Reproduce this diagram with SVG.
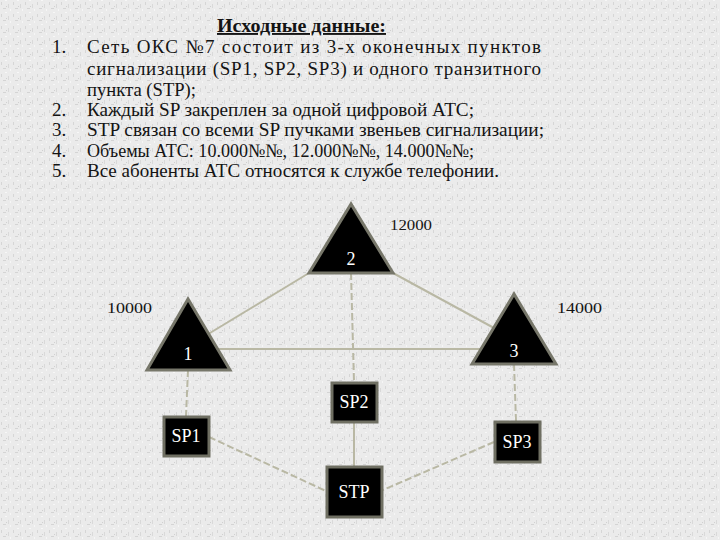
<svg xmlns="http://www.w3.org/2000/svg" width="720" height="540" viewBox="0 0 720 540">
<defs>
<pattern id="tex" width="12" height="12" patternUnits="userSpaceOnUse">
<rect width="12" height="12" fill="#ebebeb"/>
<rect x="1" y="2" width="1" height="3" fill="#d6d6d6"/>
<rect x="5" y="0" width="2" height="1" fill="#f7f7f7"/>
<rect x="8" y="4" width="1" height="4" fill="#d9d9d9"/>
<rect x="3" y="8" width="3" height="1" fill="#d4d4d4"/>
<rect x="10" y="9" width="1" height="2" fill="#f6f6f6"/>
<rect x="6" y="6" width="1" height="1" fill="#d0d0d0"/>
</pattern>
</defs>
<style>
.t{font-family:"Liberation Serif","Times New Roman",serif;font-size:19px;fill:#141414}
.lbl{font-family:"Liberation Serif","Times New Roman",serif;font-size:15px;fill:#141414}
.w{font-family:"Liberation Serif","Times New Roman",serif;font-size:18px;fill:#fff;text-anchor:middle}
.tri{fill:#000;stroke:#77776a;stroke-width:3;stroke-linejoin:miter}
.box{fill:#000;stroke:#6f6f62;stroke-width:3}
.c{stroke:#b9b8a4;stroke-width:2;fill:none}
.d{stroke-dasharray:7 3}
</style>
<rect width="720" height="540" fill="url(#tex)"/>

<g id="text">
<text class="t" x="217" y="32" font-weight="bold" text-decoration="underline" textLength="169" lengthAdjust="spacingAndGlyphs">Исходные данные:</text>
<text class="t" x="52" y="53">1.</text>
<text class="t" x="87" y="53" textLength="454" lengthAdjust="spacing">Сеть ОКС №7 состоит из 3-х оконечных пунктов</text>
<text class="t" x="87" y="75" textLength="454" lengthAdjust="spacing">сигнализации (SP1, SP2, SP3) и одного транзитного</text>
<text class="t" x="87" y="96" textLength="109" lengthAdjust="spacingAndGlyphs">пункта (STP);</text>
<text class="t" x="52" y="116">2.</text>
<text class="t" x="87" y="116" textLength="387" lengthAdjust="spacingAndGlyphs">Каждый SP закреплен за одной цифровой АТС;</text>
<text class="t" x="52" y="136">3.</text>
<text class="t" x="87" y="136" textLength="457" lengthAdjust="spacingAndGlyphs">STP связан со всеми SP пучками звеньев сигнализации;</text>
<text class="t" x="52" y="157">4.</text>
<text class="t" x="87" y="157" textLength="387" lengthAdjust="spacingAndGlyphs">Объемы АТС: 10.000№№, 12.000№№, 14.000№№;</text>
<text class="t" x="52" y="177">5.</text>
<text class="t" x="87" y="177" textLength="412" lengthAdjust="spacingAndGlyphs">Все абоненты АТС относятся к службе телефонии.</text>
</g>

<g id="connectors">
<line class="c" x1="309" y1="273" x2="200" y2="339"/>
<line class="c" x1="393" y1="273" x2="505" y2="334"/>
<line class="c" x1="215" y1="349" x2="485" y2="349"/>
<line class="c d" x1="351" y1="273" x2="354" y2="382"/>
<line class="c d" x1="188" y1="370" x2="186" y2="416"/>
<line class="c d" x1="514" y1="364" x2="516" y2="421"/>
<line class="c d" x1="209" y1="437" x2="326" y2="491"/>
<line class="c" x1="354" y1="422" x2="354" y2="466"/>
<line class="c d" x1="494" y1="442" x2="383" y2="490"/>
</g>

<g id="node-2">
<polygon class="tri" points="351,204 309,273 393,273"/>
<text class="w" x="351" y="265">2</text>
<text class="lbl" x="390" y="230" textLength="42" lengthAdjust="spacingAndGlyphs">12000</text>
</g>
<g id="node-1">
<polygon class="tri" points="188,299 147,370 230,370"/>
<text class="w" x="188" y="360">1</text>
<text class="lbl" x="107" y="313" textLength="45" lengthAdjust="spacingAndGlyphs">10000</text>
</g>
<g id="node-3">
<polygon class="tri" points="514,294 472,364 556,364"/>
<text class="w" x="514" y="357">3</text>
<text class="lbl" x="557" y="313" textLength="45" lengthAdjust="spacingAndGlyphs">14000</text>
</g>

<g id="node-sp1">
<rect class="box" x="164" y="417" width="45" height="39"/>
<text class="w" x="186" y="442">SP1</text>
</g>
<g id="node-sp2">
<rect class="box" x="332" y="383" width="45" height="39"/>
<text class="w" x="354" y="408">SP2</text>
</g>
<g id="node-sp3">
<rect class="box" x="495" y="422" width="45" height="40"/>
<text class="w" x="517" y="448">SP3</text>
</g>
<g id="node-stp">
<rect class="box" x="327" y="467" width="55" height="50"/>
<text class="w" x="354" y="498">STP</text>
</g>
</svg>
